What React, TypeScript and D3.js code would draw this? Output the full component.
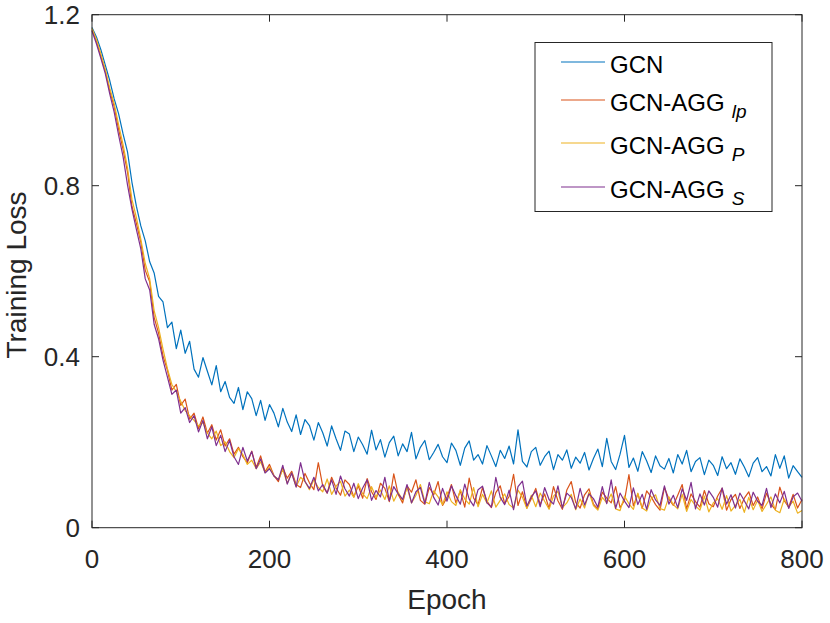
import React from 'react'
import * as d3 from 'd3'

const epochStep = 5

const xTicks = [0, 200, 400, 600, 800]
const yTicks = [0, 0.4, 0.8, 1.2]
const yTickLabels = ['0', '0.4', '0.8', '1.2']

const gcn = [
  1.170, 1.148, 1.118, 1.082, 1.046, 1.003, 0.968, 0.921, 0.879, 0.808,
  0.752, 0.706, 0.671, 0.622, 0.596, 0.541, 0.528, 0.468, 0.481, 0.419,
  0.462, 0.408, 0.436, 0.371, 0.352, 0.398, 0.366, 0.334, 0.379, 0.318,
  0.342, 0.305, 0.291, 0.328, 0.276, 0.318, 0.302, 0.262, 0.298, 0.251,
  0.288, 0.268, 0.236, 0.279, 0.247, 0.225, 0.264, 0.218, 0.253, 0.239,
  0.205, 0.246, 0.222, 0.191, 0.238, 0.208, 0.181, 0.226, 0.219, 0.178,
  0.212, 0.194, 0.172, 0.228, 0.182, 0.206, 0.165, 0.199, 0.214, 0.168,
  0.196, 0.178, 0.223, 0.161, 0.188, 0.204, 0.159, 0.176, 0.195, 0.166,
  0.152, 0.198, 0.181, 0.146, 0.186, 0.203, 0.158, 0.171, 0.149, 0.192,
  0.168, 0.143, 0.181, 0.162, 0.191, 0.149, 0.229, 0.155, 0.142, 0.178,
  0.188, 0.146, 0.166, 0.179, 0.136, 0.171, 0.158, 0.182, 0.139, 0.165,
  0.151, 0.176, 0.135, 0.162, 0.184, 0.143, 0.209, 0.155, 0.136, 0.172,
  0.216, 0.141, 0.163, 0.132, 0.178, 0.156, 0.129, 0.168, 0.145, 0.137,
  0.162, 0.128, 0.171, 0.149, 0.181, 0.131, 0.155, 0.164, 0.124, 0.158,
  0.146, 0.122, 0.166, 0.138, 0.152, 0.125, 0.161, 0.142, 0.119, 0.151,
  0.164, 0.131, 0.143, 0.121, 0.171, 0.139, 0.168, 0.116, 0.145, 0.131,
  0.118,
]

const aggLp = [
  1.165, 1.138, 1.102, 1.068, 1.022, 0.985, 0.932, 0.885, 0.832, 0.752,
  0.712, 0.668, 0.602, 0.575, 0.492, 0.455, 0.402, 0.368, 0.322, 0.335,
  0.286, 0.301, 0.254, 0.268, 0.232, 0.259, 0.221, 0.241, 0.205, 0.229,
  0.191, 0.208, 0.172, 0.188, 0.166, 0.152, 0.179, 0.141, 0.168, 0.131,
  0.148, 0.122, 0.108, 0.141, 0.116, 0.132, 0.101, 0.094, 0.127, 0.105,
  0.089, 0.152, 0.097, 0.081, 0.118, 0.093, 0.076, 0.112, 0.101, 0.072,
  0.098, 0.069, 0.115, 0.084, 0.066, 0.104, 0.092, 0.061, 0.126, 0.078,
  0.058, 0.098, 0.083, 0.112, 0.064, 0.055, 0.094, 0.077, 0.108, 0.052,
  0.071, 0.101, 0.058, 0.086, 0.048, 0.116, 0.069, 0.054, 0.094, 0.062,
  0.047, 0.082, 0.098, 0.056, 0.073, 0.125, 0.052, 0.084, 0.046, 0.068,
  0.092, 0.054, 0.079, 0.045, 0.096, 0.063, 0.043, 0.088, 0.108, 0.059,
  0.046, 0.077, 0.091, 0.055, 0.044, 0.083, 0.069, 0.058, 0.096, 0.047,
  0.064, 0.124, 0.051, 0.079, 0.045, 0.086, 0.072, 0.054, 0.041, 0.094,
  0.067, 0.052, 0.076, 0.101, 0.044, 0.079, 0.061, 0.048, 0.087, 0.056,
  0.049, 0.074, 0.092, 0.041, 0.066, 0.078, 0.045, 0.069, 0.084, 0.052,
  0.072, 0.044, 0.081, 0.055, 0.042, 0.095, 0.063, 0.048, 0.078, 0.046,
  0.066,
]

const aggP = [
  1.168, 1.142, 1.108, 1.072, 1.028, 0.992, 0.942, 0.896, 0.842, 0.768,
  0.726, 0.675, 0.618, 0.582, 0.508, 0.468, 0.418, 0.372, 0.335, 0.318,
  0.296, 0.274, 0.262, 0.251, 0.238, 0.246, 0.221, 0.208, 0.226, 0.192,
  0.201, 0.178, 0.164, 0.185, 0.171, 0.148, 0.158, 0.138, 0.154, 0.129,
  0.142, 0.121, 0.113, 0.136, 0.104, 0.128, 0.096, 0.118, 0.108, 0.089,
  0.112, 0.094, 0.084, 0.114, 0.078, 0.097, 0.109, 0.074, 0.088, 0.071,
  0.103, 0.079, 0.068, 0.096, 0.071, 0.088, 0.066, 0.098, 0.062, 0.083,
  0.064, 0.094, 0.058, 0.076, 0.101, 0.061, 0.056, 0.086, 0.072, 0.054,
  0.084, 0.061, 0.052, 0.089, 0.067, 0.055, 0.094, 0.049, 0.078, 0.058,
  0.086, 0.048, 0.064, 0.079, 0.054, 0.046, 0.088, 0.071, 0.045, 0.076,
  0.049, 0.081, 0.062, 0.043, 0.074, 0.085, 0.047, 0.058, 0.078, 0.042,
  0.067, 0.046, 0.083, 0.052, 0.041, 0.071, 0.058, 0.079, 0.044, 0.040,
  0.074, 0.056, 0.043, 0.081, 0.046, 0.039, 0.068, 0.077, 0.045, 0.041,
  0.072, 0.054, 0.044, 0.078, 0.038, 0.066, 0.051, 0.041, 0.074, 0.037,
  0.058, 0.068, 0.043, 0.075, 0.039, 0.052, 0.066, 0.036, 0.071, 0.042,
  0.064, 0.038, 0.055, 0.072, 0.041, 0.035, 0.067, 0.049, 0.062, 0.034,
  0.040,
]

const aggS = [
  1.162, 1.132, 1.098, 1.062, 1.015, 0.972, 0.918, 0.868, 0.802, 0.745,
  0.698, 0.652, 0.582, 0.556, 0.476, 0.442, 0.392, 0.352, 0.312, 0.322,
  0.268, 0.281, 0.246, 0.262, 0.224, 0.251, 0.208, 0.236, 0.192, 0.216,
  0.178, 0.204, 0.166, 0.148, 0.188, 0.156, 0.178, 0.138, 0.161, 0.128,
  0.138, 0.121, 0.112, 0.146, 0.102, 0.128, 0.095, 0.152, 0.108, 0.092,
  0.118, 0.086, 0.101, 0.081, 0.112, 0.078, 0.121, 0.091, 0.074, 0.104,
  0.068, 0.093, 0.112, 0.064, 0.087, 0.072, 0.118, 0.063, 0.096, 0.079,
  0.066, 0.101, 0.058, 0.084, 0.094, 0.056, 0.106, 0.071, 0.053, 0.092,
  0.062, 0.098, 0.075, 0.055, 0.102, 0.067, 0.051, 0.089, 0.097, 0.058,
  0.048, 0.118, 0.071, 0.054, 0.088, 0.042, 0.096, 0.109, 0.051, 0.072,
  0.086, 0.049, 0.094, 0.066, 0.055, 0.098, 0.046, 0.081, 0.071, 0.044,
  0.092, 0.053, 0.079, 0.068, 0.048, 0.096, 0.056, 0.112, 0.045, 0.081,
  0.062, 0.047, 0.093, 0.054, 0.078, 0.043, 0.089, 0.065, 0.052, 0.098,
  0.055, 0.076, 0.047, 0.091, 0.064, 0.106, 0.044, 0.079, 0.053, 0.086,
  0.071, 0.048, 0.093, 0.055, 0.077, 0.046, 0.081, 0.063, 0.044, 0.083,
  0.062, 0.052, 0.092, 0.047, 0.079, 0.058, 0.085, 0.045, 0.072, 0.081,
  0.062,
]

const seriesNames = ['GCN', 'GCN-AGG', 'GCN-AGG', 'GCN-AGG']
const seriesSubs = ['', 'lp', 'P', 'S']
const seriesColors = ['#0072BD', '#D95319', '#EDB120', '#7E2F8E']
const seriesValues = [gcn, aggLp, aggP, aggS]

const W = 830
const H = 623
const left = 92
const right = 802
const top = 14.7
const bottom = 527.7
const axisColor = '#262626'
const font = 'Helvetica, Arial, "Liberation Sans", sans-serif'

export default function App() {
  const x = d3.scaleLinear().domain([0, 800]).range([left, right])
  const y = d3.scaleLinear().domain([0, 1.2]).range([bottom, top])
  const line = d3
    .line<number>()
    .x((_, i) => x(i * epochStep))
    .y((d) => y(d))

  const tickLen = 7
  const legendRows = [62, 100, 143, 187]

  return (
    <svg
      width={W}
      height={H}
      style={{ position: 'absolute', left: 0, top: 0, background: '#fff' }}
      fontFamily={font}
    >
      <rect x={0} y={0} width={W} height={H} fill="#fff" />

      {/* curves */}
      <g fill="none" strokeWidth={1.2} strokeLinejoin="round">
        {seriesValues.map((vals, k) => (
          <path key={k} d={line(vals) || ''} stroke={seriesColors[k]} />
        ))}
      </g>

      {/* axes box */}
      <rect
        x={left}
        y={top}
        width={right - left}
        height={bottom - top}
        fill="none"
        stroke={axisColor}
        strokeWidth={1}
      />

      {/* ticks, inside on all four sides */}
      <g stroke={axisColor} strokeWidth={1}>
        {xTicks.map((t) => (
          <g key={t}>
            <line x1={x(t)} x2={x(t)} y1={bottom} y2={bottom - tickLen} />
            <line x1={x(t)} x2={x(t)} y1={top} y2={top + tickLen} />
          </g>
        ))}
        {yTicks.map((t) => (
          <g key={t}>
            <line x1={left} x2={left + tickLen} y1={y(t)} y2={y(t)} />
            <line x1={right} x2={right - tickLen} y1={y(t)} y2={y(t)} />
          </g>
        ))}
      </g>

      <g fill={axisColor} fontSize={26}>
        {xTicks.map((t) => (
          <text key={t} x={x(t)} y={568} textAnchor="middle">
            {t}
          </text>
        ))}
        {yTicks.map((t, i) => (
          <text key={t} x={80} y={y(t)} dy="0.36em" textAnchor="end">
            {yTickLabels[i]}
          </text>
        ))}
      </g>

      <text x={(left + right) / 2} y={609} textAnchor="middle" fontSize={28} fill={axisColor}>
        Epoch
      </text>
      <text
        transform={`translate(26,${275}) rotate(-90)`}
        textAnchor="middle"
        fontSize={28}
        fill={axisColor}
      >
        Training Loss
      </text>

      {/* legend */}
      <rect x={535} y={42.5} width={237} height={169} fill="#fff" stroke={axisColor} strokeWidth={1} />
      {seriesNames.map((name, k) => (
        <g key={k}>
          <line x1={561} x2={605} y1={legendRows[k]} y2={legendRows[k]} stroke={seriesColors[k]} strokeWidth={1.2} />
          <text x={610} y={legendRows[k] + (k === 0 ? 10.5 : 11)} fontSize={24} fill="#000">
            {name}
            {seriesSubs[k] && (
              <tspan dx={7} dy={7} fontSize={19} fontStyle="italic">
                {seriesSubs[k]}
              </tspan>
            )}
          </text>
        </g>
      ))}
    </svg>
  )
}
